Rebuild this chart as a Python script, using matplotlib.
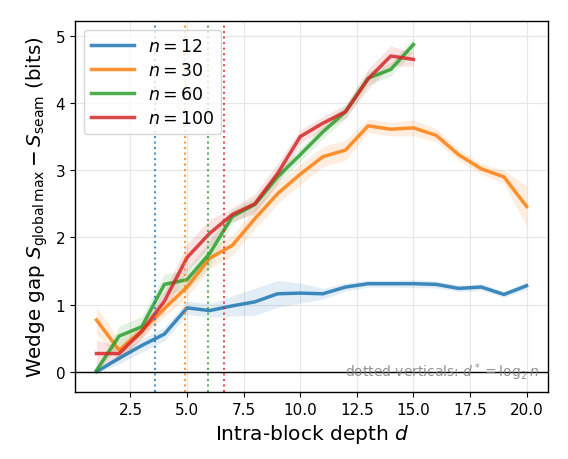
import numpy as np
import matplotlib
matplotlib.use("Agg")
import matplotlib.pyplot as plt
import matplotlib.transforms as mtransforms

# Data
d_12 = list(range(1, 21))
gap_12 = [0.0, 0.2, 0.39, 0.56, 0.95, 0.91, 0.98, 1.04, 1.16, 1.17, 1.16, 1.26, 1.31, 1.31, 1.31, 1.30, 1.24, 1.26, 1.15, 1.28]
err_12 = [0.02, 0.08, 0.1, 0.1, 0.1, 0.1, 0.15, 0.2, 0.2, 0.15, 0.08, 0.06, 0.05, 0.05, 0.06, 0.05, 0.05, 0.05, 0.04, 0.06]

d_30 = list(range(1, 21))
gap_30 = [0.77, 0.32, 0.61, 0.94, 1.26, 1.69, 1.88, 2.28, 2.65, 2.94, 3.2, 3.3, 3.66, 3.61, 3.63, 3.52, 3.23, 3.02, 2.9, 2.46]
err_30 = [0.2, 0.15, 0.12, 0.12, 0.15, 0.15, 0.15, 0.15, 0.15, 0.15, 0.15, 0.15, 0.1, 0.1, 0.12, 0.1, 0.08, 0.08, 0.1, 0.3]

d_60 = list(range(1, 16))
gap_60 = [0.02, 0.53, 0.67, 1.3, 1.37, 1.76, 2.31, 2.49, 2.9, 3.23, 3.57, 3.87, 4.37, 4.5, 4.87]
err_60 = [0.03, 0.15, 0.15, 0.15, 0.15, 0.2, 0.1, 0.1, 0.1, 0.1, 0.1, 0.1, 0.1, 0.1, 0.1]

d_100 = list(range(1, 16))
gap_100 = [0.27, 0.27, 0.6, 1.05, 1.7, 2.06, 2.34, 2.5, 2.95, 3.5, 3.7, 3.87, 4.36, 4.7, 4.65]
err_100 = [0.2, 0.1, 0.1, 0.15, 0.2, 0.2, 0.1, 0.15, 0.15, 0.1, 0.1, 0.1, 0.15, 0.15, 0.1]

ns = [12, 30, 60, 100]
colors = ["#1f77b4", "#ff7f0e", "#2ca02c", "#d62728"]

series = [(d_12, gap_12, err_12), (d_30, gap_30, err_30), (d_60, gap_60, err_60), (d_100, gap_100, err_100)]

fig = plt.figure(figsize=(5.68, 4.6), dpi=100)
ax = fig.add_axes([0.132, 0.146, 0.833, 0.806])

for n, c, (d, g, e) in zip(ns, colors, series):
    d = np.array(d); g = np.array(g); e = np.array(e)
    ax.fill_between(d, g - e, g + e, color=c, alpha=0.13, lw=0)
    ax.plot(d, g, color=c, lw=2.5, alpha=0.85, label=f"$n={n}$")

for n, c in zip(ns, colors):
    ax.axvline(np.log2(n), color=c, ls=":", lw=1.5, alpha=0.8)

ax.axhline(0, color="black", lw=1)
trans = mtransforms.blended_transform_factory(ax.transAxes, ax.transData)
ax.text(0.98, 0.0, r"dotted verticals: $d^*=\log_2 n$", transform=trans,
        ha="right", va="center", color="gray", alpha=0.85, fontsize=10)

ax.set_xlim(0.05, 20.95)
ax.set_ylim(-0.3, 5.22)
ax.grid(True, color="#e6e6e6", lw=0.8)
ax.set_axisbelow(True)
ax.tick_params(labelsize=11)
for s in ax.spines.values():
    s.set_linewidth(1.0)
ax.set_xlabel("Intra-block depth $d$", fontsize=14.5)
ax.set_ylabel(r"Wedge gap $S_{\mathrm{global\,max}} - S_{\mathrm{seam}}$ (bits)", fontsize=14.3)
leg = ax.legend(loc="upper left", fontsize=12.5, handlelength=2.5, labelspacing=0.35)

fig.savefig("out.png", dpi=100)
